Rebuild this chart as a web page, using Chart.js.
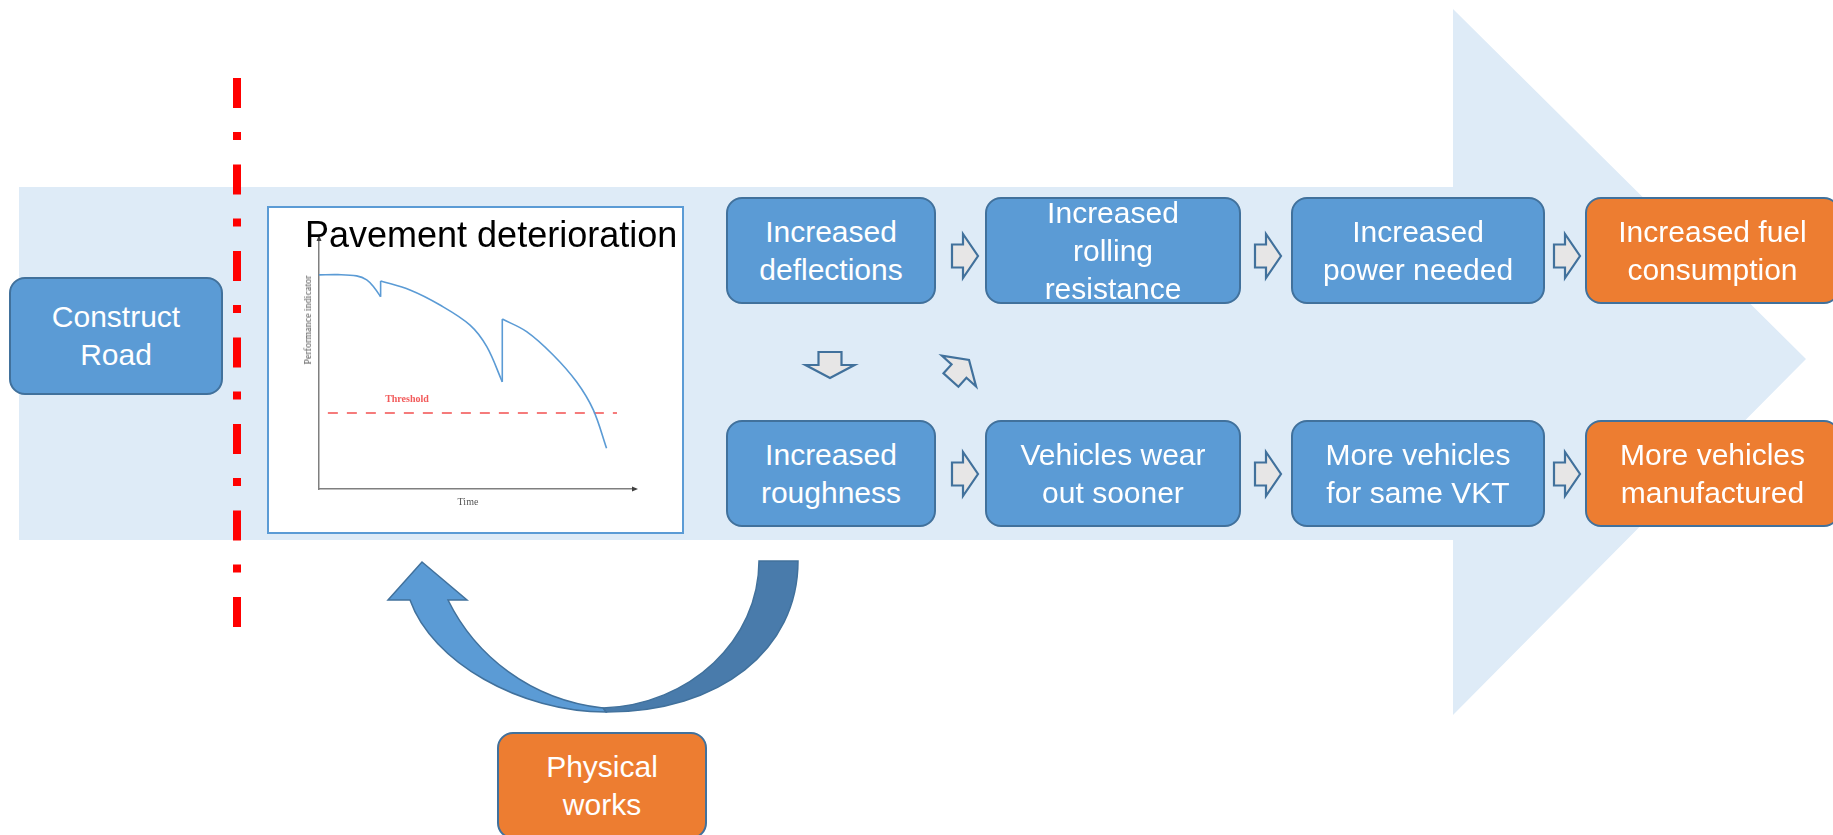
<!DOCTYPE html>
<html>
<head>
<meta charset="utf-8">
<script src="https://cdn.jsdelivr.net/npm/chart.js@4.4.1/dist/chart.umd.min.js"></script>
<style>
  html, body { margin: 0; padding: 0; background: #ffffff; }
  #stage { position: relative; width: 1833px; height: 835px; overflow: hidden; }
  #diagram { position: absolute; left: 0; top: 0; }
  .box {
    position: absolute; box-sizing: border-box;
    border: 2.5px solid #41719c; border-radius: 16px;
    background: #5b9bd5; color: #ffffff;
    font-family: "Liberation Sans", Arial, sans-serif; font-size: 30px; line-height: 38px;
    display: flex; align-items: center; justify-content: center; text-align: center;
    white-space: nowrap;
  }
  .box.orange { background: #ed7d31; }
  .lbl { position: absolute; white-space: nowrap; font-family: "Liberation Serif", "Times New Roman", serif; }
</style>
</head>
<body>
<div id="stage">
  <canvas id="diagram" width="1833" height="835"></canvas>
</div>
<script>
// pavement performance curve (x = time, y = performance indicator, 0..100)
const wearCycle1 = [[0, 85.3], [6, 85.4], [11.9, 84.9], [15.1, 83.3], [17.5, 80.2], [19.5, 76.6]];
const repair1 = [[19.5, 76.6], [19.5, 82.9]];
const wearCycle2 = [[19.5, 82.9], [28.8, 79.3], [38.3, 73.3], [47.8, 65.3], [53.1, 56.7], [58.0, 42.7]];
const repair2 = [[58.0, 42.7], [58.0, 67.7]];
const wearCycle3 = [[58.0, 67.7], [65.7, 62.7], [74.1, 53.4], [81.5, 42.7], [86.8, 31.5], [91.0, 16.2]];
const thresholdLine = [[2.8, 30.3], [94.3, 30.3]];

// flow boxes
const topRow = [["Increased", "deflections"], ["Increased", "rolling", "resistance"], ["Increased", "power needed"], ["Increased fuel", "consumption"]];
const bottomRow = [["Increased", "roughness"], ["Vehicles wear", "out sooner"], ["More vehicles", "for same VKT"], ["More vehicles", "manufactured"]];
const startLabel = ["Construct", "Road"];
const worksLabel = ["Physical", "works"];

const stage = document.getElementById("stage");

function addBox(lines, x, y, w, h, orange) {
    const d = document.createElement("div");
    d.className = "box" + (orange ? " orange" : "");
    d.style.left = x + "px";
    d.style.top = y + "px";
    d.style.width = w + "px";
    d.style.height = h + "px";
    d.innerHTML = "<div>" + lines.join("<br>") + "</div>";
    stage.appendChild(d);
}

function addLabel(text, x, y, css) {
    const d = document.createElement("div");
    d.className = "lbl";
    d.textContent = text;
    d.style.left = x + "px";
    d.style.top = y + "px";
    Object.assign(d.style, css || {});
    stage.appendChild(d);
}

const colX = [726, 985, 1291, 1585];
const colW = [210, 256, 254, 255];
topRow.forEach((t, i) => addBox(t, colX[i], 197, colW[i], 107, i === 3));
bottomRow.forEach((t, i) => addBox(t, colX[i], 420, colW[i], 107, i === 3));
addBox(startLabel, 9, 277, 214, 118, false);
addBox(worksLabel, 497, 732, 210, 107, true);

addLabel("Pavement deterioration", 305, 217, {
    fontFamily: '"Liberation Sans", Arial, sans-serif', fontSize: "36px", lineHeight: "36px", color: "#000000"
});
addLabel("Performance indicator", 308, 320, {
    fontSize: "10px", lineHeight: "10px", color: "#555555",
    transform: "translate(-50%, -50%) rotate(-90deg)"
});
addLabel("Time", 468, 502, {
    fontSize: "10px", lineHeight: "10px", color: "#555555", transform: "translate(-50%, -50%)"
});
addLabel("Threshold", 407, 399, {
    fontSize: "10px", lineHeight: "10px", color: "#f25a5a", fontWeight: "bold", transform: "translate(-50%, -50%)"
});

function blockArrow(ctx, cx, cy, angle, len, shaftHalf, headHalf, headLen) {
    const h = len / 2, b = h - headLen;
    const pts = [[-h, -shaftHalf], [b, -shaftHalf], [b, -headHalf], [h, 0], [b, headHalf], [b, shaftHalf], [-h, shaftHalf]];
    ctx.save();
    ctx.translate(cx, cy);
    ctx.rotate(angle);
    ctx.beginPath();
    pts.forEach((p, i) => i ? ctx.lineTo(p[0], p[1]) : ctx.moveTo(p[0], p[1]));
    ctx.closePath();
    ctx.fillStyle = "#e7e6e6";
    ctx.fill();
    ctx.lineWidth = 2.2;
    ctx.strokeStyle = "#41719c";
    ctx.lineJoin = "miter";
    ctx.stroke();
    ctx.restore();
}

const backdrop = {
    id: "backdrop",
    beforeDraw(chart) {
        const ctx = chart.ctx;
        ctx.save();
        // big pale arrow
        ctx.fillStyle = "#deebf7";
        ctx.beginPath();
        ctx.moveTo(19, 187);
        ctx.lineTo(1453, 187);
        ctx.lineTo(1453, 9);
        ctx.lineTo(1806, 359);
        ctx.lineTo(1453, 715);
        ctx.lineTo(1453, 540);
        ctx.lineTo(19, 540);
        ctx.closePath();
        ctx.fill();

        // red dash-dot divider
        ctx.strokeStyle = "#ff0000";
        ctx.lineWidth = 8;
        ctx.lineCap = "butt";
        ctx.setLineDash([30, 24, 8, 24.5]);
        ctx.beginPath();
        ctx.moveTo(237, 78);
        ctx.lineTo(237, 640);
        ctx.stroke();
        ctx.setLineDash([]);

        // white panel for the inner chart
        ctx.fillStyle = "#ffffff";
        ctx.fillRect(268, 207, 415, 326);
        ctx.strokeStyle = "#5b9bd5";
        ctx.lineWidth = 2;
        ctx.strokeRect(268, 207, 415, 326);

        // small block arrows
        [965, 1268, 1567].forEach(x => {
            blockArrow(ctx, x, 256, 0, 26, 11.5, 22, 15);
            blockArrow(ctx, x, 474, 0, 26, 11.5, 22, 15);
        });
        blockArrow(ctx, 830, 365, Math.PI / 2, 26, 11.5, 24.5, 13);
        blockArrow(ctx, 960, 370, -48 * Math.PI / 180, 27, 10, 23, 15);

        // curved return arrow (back half, darker)
        ctx.lineWidth = 1.5;
        ctx.strokeStyle = "#41719c";
        ctx.fillStyle = "#497bab";
        ctx.beginPath();
        ctx.moveTo(798, 561);
        ctx.bezierCurveTo(798, 650, 720, 712, 606, 712);
        ctx.lineTo(603, 708);
        ctx.bezierCurveTo(690, 705, 759, 640, 759, 561);
        ctx.closePath();
        ctx.fill();
        ctx.stroke();
        // front half with head, lighter
        ctx.fillStyle = "#5b9bd5";
        ctx.beginPath();
        ctx.moveTo(606, 712);
        ctx.bezierCurveTo(520, 712, 432, 662, 410, 600);
        ctx.lineTo(388, 600);
        ctx.lineTo(422, 562);
        ctx.lineTo(467, 600);
        ctx.lineTo(448, 600);
        ctx.bezierCurveTo(475, 655, 530, 700, 603, 708);
        ctx.closePath();
        ctx.fill();
        ctx.stroke();
        ctx.restore();
    },
    afterDraw(chart) {
        const ctx = chart.ctx;
        const a = chart.chartArea;
        ctx.save();
        ctx.fillStyle = "#404040";
        ctx.beginPath();
        ctx.moveTo(a.left, a.top - 3);
        ctx.lineTo(a.left - 2.5, a.top + 3);
        ctx.lineTo(a.left + 2.5, a.top + 3);
        ctx.closePath();
        ctx.fill();
        ctx.beginPath();
        ctx.moveTo(a.right + 3, a.bottom);
        ctx.lineTo(a.right - 3, a.bottom - 2.5);
        ctx.lineTo(a.right - 3, a.bottom + 2.5);
        ctx.closePath();
        ctx.fill();
        ctx.restore();
    }
};

const toXY = arr => arr.map(p => ({ x: p[0], y: p[1] }));
const curveStyle = { borderColor: "#5b9bd5", borderWidth: 1.6, pointRadius: 0, fill: false };

new Chart(document.getElementById("diagram"), {
    type: "line",
    data: {
        datasets: [
            { ...curveStyle, data: toXY(wearCycle1), tension: 0.35 },
            { ...curveStyle, data: toXY(repair1), tension: 0 },
            { ...curveStyle, data: toXY(wearCycle2), tension: 0.35 },
            { ...curveStyle, data: toXY(repair2), tension: 0 },
            { ...curveStyle, data: toXY(wearCycle3), tension: 0.35 },
            { data: toXY(thresholdLine), borderColor: "#f25050", borderWidth: 1.6, borderDash: [10, 9], pointRadius: 0, tension: 0 },
        ],
    },
    options: {
        responsive: false,
        animation: false,
        devicePixelRatio: 1,
        layout: { padding: { left: 319, top: 238, right: 1198, bottom: 346 } },
        plugins: { legend: { display: false }, tooltip: { enabled: false } },
        scales: {
            x: {
                type: "linear", min: 0, max: 100,
                ticks: { display: false },
                grid: { display: true, drawOnChartArea: false, drawTicks: false },
                border: { display: true, color: "#7f7f7f", width: 1.5 },
            },
            y: {
                type: "linear", min: 0, max: 100,
                ticks: { display: false },
                grid: { display: true, drawOnChartArea: false, drawTicks: false },
                border: { display: true, color: "#7f7f7f", width: 1.5 },
            },
        },
    },
    plugins: [backdrop],
});
</script>
</body>
</html>
